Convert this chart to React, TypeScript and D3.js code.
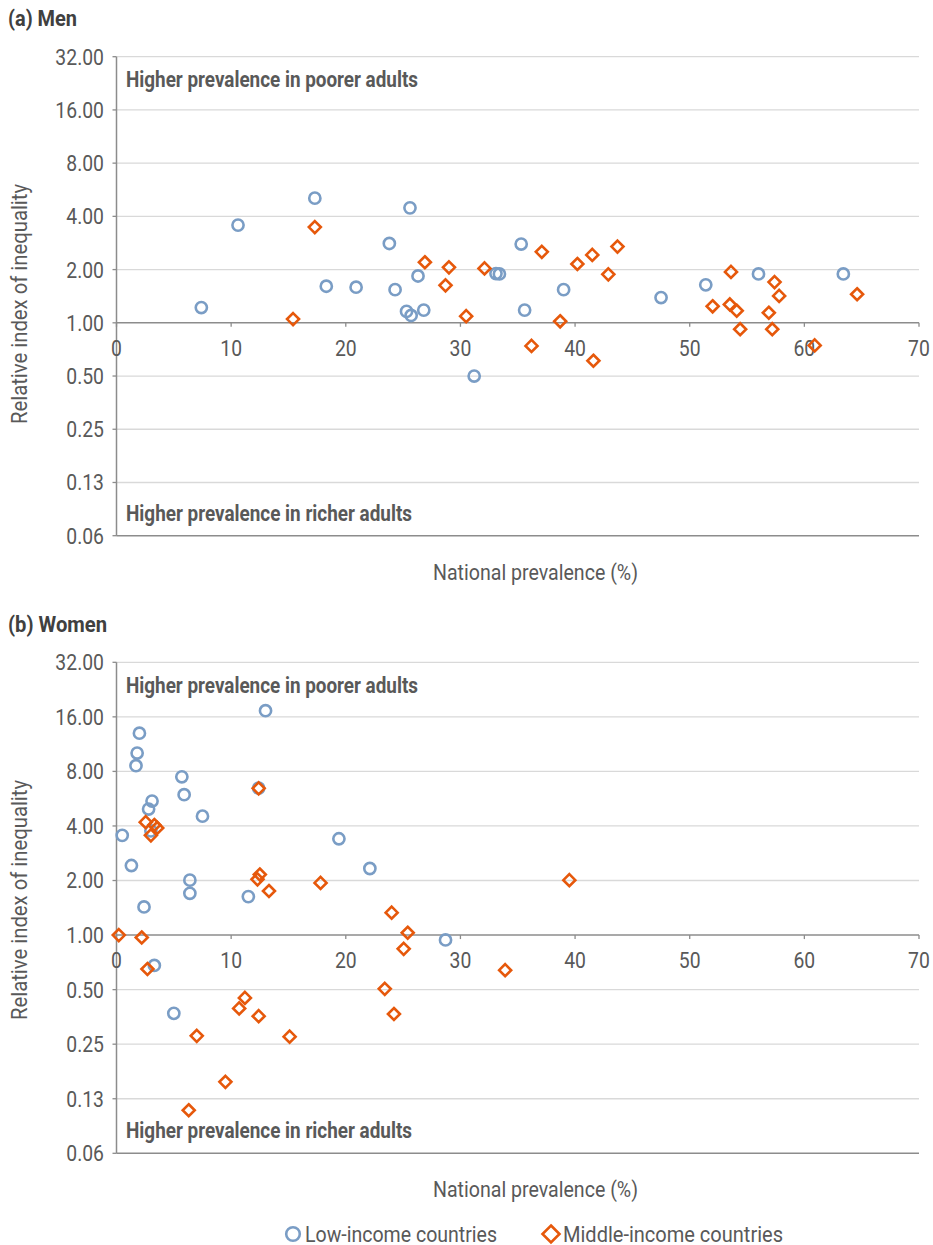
import React, { useEffect } from "react";
import * as d3 from "d3";

const yTickValues = [0.0625, 0.125, 0.25, 0.5, 1, 2, 4, 8, 16, 32];
const yTickLabels = ["0.06", "0.13", "0.25", "0.50", "1.00", "2.00", "4.00", "8.00", "16.00", "32.00"];
const xTickValues = [0, 10, 20, 30, 40, 50, 60, 70];

// Men — low-income countries [prevalence %, relative index]
const menLow: [number, number][] = [
  [7.4, 1.22], [10.6, 3.57], [17.3, 5.07], [18.3, 1.61], [20.9, 1.59], [23.8, 2.81],
  [24.3, 1.54], [25.6, 4.47], [26.3, 1.84], [25.3, 1.16], [25.7, 1.1], [26.8, 1.18],
  [35.3, 2.79], [33.1, 1.9], [33.4, 1.89], [39.0, 1.54], [35.6, 1.18], [47.5, 1.39],
  [51.4, 1.64], [56.0, 1.89], [63.4, 1.89], [31.2, 0.5],
];
// Men — middle-income countries
const menMid: [number, number][] = [
  [17.3, 3.48], [15.4, 1.05], [26.9, 2.2], [29.0, 2.06], [28.7, 1.63], [30.5, 1.09],
  [32.1, 2.03], [37.1, 2.52], [40.2, 2.15], [41.5, 2.42], [43.7, 2.7], [42.9, 1.88],
  [38.7, 1.02], [53.6, 1.94], [52.0, 1.24], [53.5, 1.27], [54.1, 1.17], [54.4, 0.92],
  [57.4, 1.7], [57.8, 1.42], [56.9, 1.14], [57.2, 0.92], [64.6, 1.45], [60.9, 0.745],
  [36.2, 0.74], [41.6, 0.61],
];
// Women — low-income countries
const womenLow: [number, number][] = [
  [0.5, 3.55], [1.3, 2.42], [1.7, 8.6], [1.8, 10.1], [2.0, 13.0], [2.4, 1.43],
  [3.1, 5.49], [2.8, 4.96], [3.0, 3.76], [5.7, 7.47], [5.9, 5.95], [7.5, 4.53],
  [6.4, 2.01], [6.4, 1.7], [11.5, 1.63], [12.4, 6.47], [13.0, 17.3], [19.4, 3.4],
  [22.1, 2.33], [28.7, 0.94], [3.3, 0.68], [5.0, 0.37],
];
// Women — middle-income countries
const womenMid: [number, number][] = [
  [0.2, 1.0], [2.2, 0.97], [2.55, 4.2], [3.0, 3.55], [3.3, 4.05], [3.55, 3.9],
  [12.4, 6.45], [12.5, 2.16], [12.3, 2.03], [13.3, 1.75], [17.8, 1.94], [24.0, 1.33],
  [25.4, 1.03], [25.05, 0.84], [2.7, 0.65], [23.4, 0.505], [24.2, 0.367], [11.2, 0.45],
  [10.7, 0.394], [12.4, 0.357], [7.0, 0.278], [15.1, 0.275], [9.5, 0.155], [6.3, 0.108],
  [33.9, 0.64], [39.5, 2.01],
];

const BLUE = "#7a9dc5";
const ORANGE = "#e6580b";
const TEXT = "#595959";
const GRID = "#d9d9d9";
const AXIS = "#8c8c8c";
const FONT = "Roboto, 'Liberation Sans', sans-serif";
const NUM_SX = 0.88;

const X0 = 116.5;
const X1 = 919;

function diamondPath(cx: number, cy: number, r: number) {
  return `M${cx},${cy - r}L${cx + r},${cy}L${cx},${cy + r}L${cx - r},${cy}Z`;
}

function Num({ x, y, anchor, children }: { x: number; y: number; anchor: string; children: React.ReactNode }) {
  return (
    <text transform={`translate(${x},${y}) scale(${NUM_SX},1)`} dy="0.36em" textAnchor={anchor}
      fontFamily={FONT} fontSize={22} fill={TEXT}>{children}</text>
  );
}

function Panel({ title, titleLen, top, bottom, titleY, labelCY, low, mid }: {
  title: string; titleLen: number; top: number; bottom: number; titleY: number; labelCY: number;
  low: [number, number][]; mid: [number, number][];
}) {
  const x = d3.scaleLinear().domain([0, 70]).range([X0, X1]);
  const y = d3.scaleLog().base(2).domain([0.0625, 32]).range([bottom, top]);
  const y1 = y(1);
  return (
    <g>
      <text x={8} y={titleY} fontFamily={FONT} fontWeight="bold" fontSize={22} fill="#404040"
        textLength={titleLen} lengthAdjust="spacingAndGlyphs">{title}</text>
      {yTickValues.map((v, i) => (
        <g key={"g" + i}>
          <line x1={X0} x2={X1} y1={y(v)} y2={y(v)}
            stroke={v === 1 || v === 0.0625 ? AXIS : GRID} strokeWidth={v === 1 || v === 0.0625 ? 1.5 : 1.3} />
          <line x1={X0 - 4} x2={X0} y1={y(v)} y2={y(v)} stroke={AXIS} strokeWidth={1.3} />
          <Num x={104} y={y(v)} anchor="end">{yTickLabels[i]}</Num>
        </g>
      ))}
      <line x1={X0} x2={X0} y1={top} y2={bottom} stroke={AXIS} strokeWidth={1.5} />
      {xTickValues.map((v) => (
        <g key={"x" + v}>
          <line x1={x(v)} x2={x(v)} y1={y1} y2={y1 + 4} stroke={AXIS} strokeWidth={1.3} />
          <Num x={x(v)} y={y1 + 25} anchor="middle">{v}</Num>
        </g>
      ))}
      <text x={126} y={top + 30.5} fontFamily={FONT} fontWeight="bold" fontSize={22} fill={TEXT}
        textLength={292} lengthAdjust="spacingAndGlyphs">Higher prevalence in poorer adults</text>
      <text x={126} y={bottom - 15} fontFamily={FONT} fontWeight="bold" fontSize={22} fill={TEXT}
        textLength={286} lengthAdjust="spacingAndGlyphs">Higher prevalence in richer adults</text>
      <text transform={`translate(27,${labelCY}) rotate(-90)`} x={-120} fontFamily={FONT} fontSize={22} fill={TEXT}
        textLength={240} lengthAdjust="spacingAndGlyphs">Relative index of inequality</text>
      <text x={433} y={bottom + 44} fontFamily={FONT} fontSize={22} fill={TEXT}
        textLength={205} lengthAdjust="spacingAndGlyphs">National prevalence (%)</text>
      {low.map((d, i) => (
        <circle key={"l" + i} cx={x(d[0])} cy={y(d[1])} r={5.6} fill="none" stroke={BLUE} strokeWidth={2.6} />
      ))}
      {mid.map((d, i) => (
        <path key={"m" + i} d={diamondPath(x(d[0]), y(d[1]), 6)} fill="none" stroke={ORANGE} strokeWidth={2.6} />
      ))}
    </g>
  );
}

export default function App() {
  useEffect(() => {
    document.body.style.margin = "0";
  }, []);
  return (
    <svg width={933} height={1245} style={{ display: "block", background: "#fff" }}>
      <rect width={933} height={1245} fill="#fff" />
      <Panel title="(a) Men" titleLen={69} top={56.7} bottom={535.7} titleY={26} labelCY={304} low={menLow} mid={menMid} />
      <Panel title="(b) Women" titleLen={99} top={662.3} bottom={1153.3} titleY={632} labelCY={900} low={womenLow} mid={womenMid} />
      <g>
        <circle cx={293} cy={1234} r={6.8} fill="none" stroke={BLUE} strokeWidth={2.6} />
        <text x={305} y={1241.5} fontFamily={FONT} fontSize={22} fill={TEXT}
          textLength={192} lengthAdjust="spacingAndGlyphs">Low-income countries</text>
        <path d={diamondPath(551, 1234, 8.5)} fill="none" stroke={ORANGE} strokeWidth={2.6} />
        <text x={563} y={1241.5} fontFamily={FONT} fontSize={22} fill={TEXT}
          textLength={220} lengthAdjust="spacingAndGlyphs">Middle-income countries</text>
      </g>
    </svg>
  );
}
